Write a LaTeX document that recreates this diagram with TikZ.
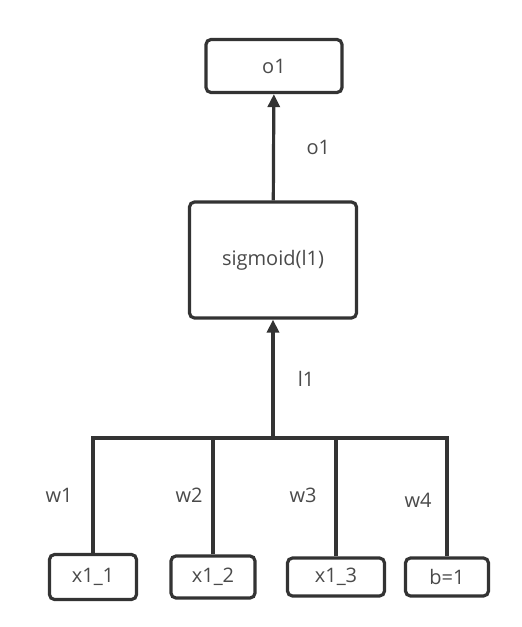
\documentclass[tikz,border=0pt]{standalone}
\usepackage{fontspec}
\setmainfont{Open Sans}
\usepackage{tikz}
\usepackage{xcolor}
\usetikzlibrary{arrows.meta,positioning}

\definecolor{linegray}{HTML}{333333}
\definecolor{textgray}{HTML}{4A4A4A}

\begin{document}
\begin{tikzpicture}[
    x=1pt, y=-1pt,
    box/.style={rectangle, draw=linegray, line width=3.2pt, rounded corners=5pt, align=center, text=textgray, font=\fontsize{20}{24}\selectfont},
    wire/.style={draw=linegray, line width=3.2pt},
    arrow/.style={wire, -{Triangle[length=13pt, width=12pt]}},
    lbl/.style={text=textgray, font=\fontsize{20}{24}\selectfont}
]
    \useasboundingbox (0,0) rectangle (522,627);

    \node[box, minimum width=136pt, minimum height=53pt] (out) at (274,66) {o1};
    \node[box, minimum width=167pt, minimum height=116pt] (sig) at (273,260) {sigmoid(l1)};

    \node[box, minimum width=87pt, minimum height=45pt] (x11) at (93,577) {x1\_1};
    \node[box, minimum width=84pt, minimum height=42pt] (x12) at (213,577) {x1\_2};
    \node[box, minimum width=97pt, minimum height=38pt] (x13) at (336,577) {x1\_3};
    \node[box, minimum width=83pt, minimum height=38pt] (bias) at (447,577) {b=1};

    \coordinate (bus) at (273,438);

    % inputs to the bus
    \draw[wire] (x11.north) |- (bus);
    \draw[wire] (x12.north) |- (bus);
    \draw[wire] (x13.north) |- (bus);
    \draw[wire] (bias.north) |- (bus);

    % weights
    \node[lbl] (w1) at (59,495) {w1};
    \node[lbl] (w2) at (189,495) {w2};
    \node[lbl] (w3) at (303,495) {w3};
    \node[lbl] (w4) at (418,500) {w4};

    \draw[arrow] (bus) -- node[lbl, right=20pt] {l1} (sig);
    \draw[arrow] (sig) -- node[lbl, right=28pt] {o1} (out);
\end{tikzpicture}
\end{document}
